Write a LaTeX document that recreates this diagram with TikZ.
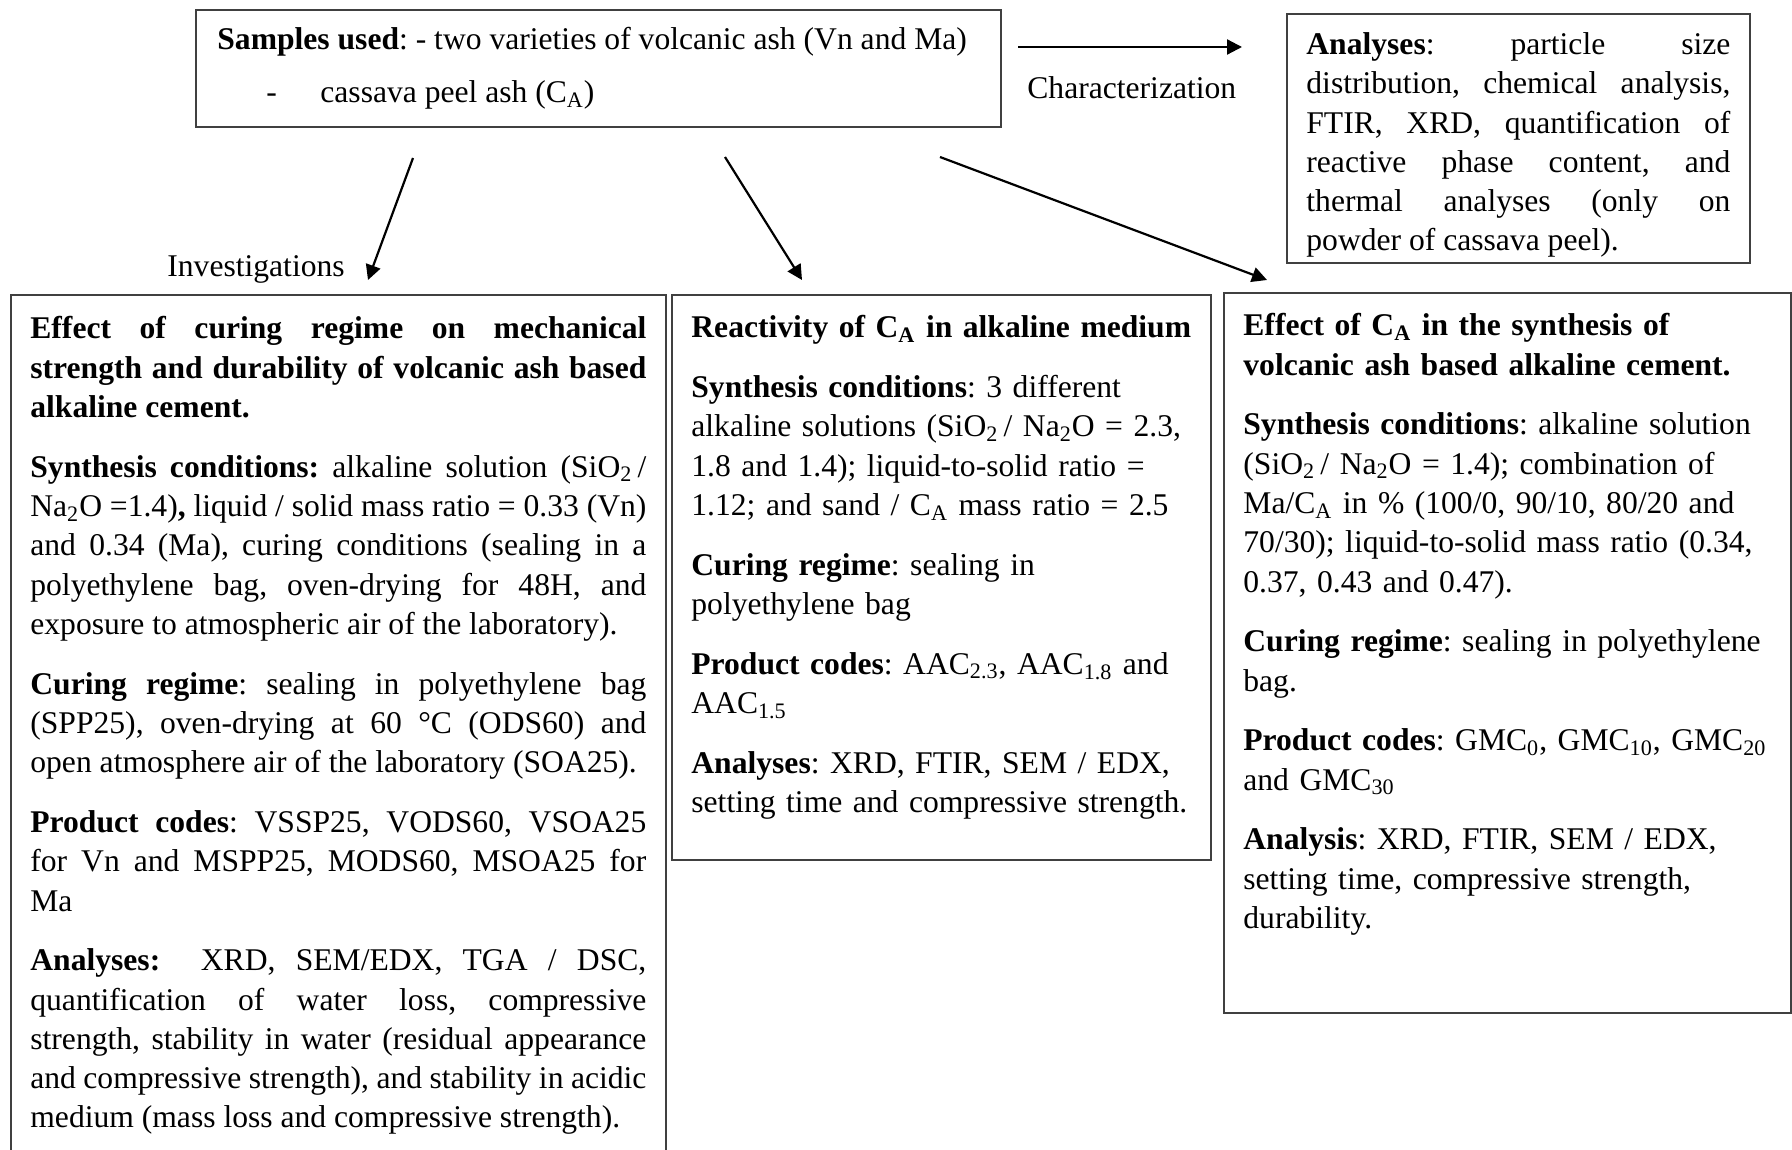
\documentclass[tikz,border=0pt]{standalone}
\usepackage{fontspec}
\setmainfont{Liberation Serif}
\usetikzlibrary{arrows.meta}
\tolerance=9999
\hbadness=10000
\hfuzz=20pt
\newcommand\pp{\par\vspace{10.2pt}}
\begin{document}
\frenchspacing
\begin{tikzpicture}[x=0.5pt,y=-0.5pt,
  boxnode/.style={draw=black!75, line width=0.75pt, inner sep=0pt},
  boxline/.style={draw=black!75, line width=0.75pt},
  txt/.style={inner sep=0pt, anchor=north west, font=\fontsize{15.8}{19.65}\selectfont\frenchspacing},
  jtxt/.style={txt, align=justify},
  ltxt/.style={txt, align=left},
  arr/.style={-{Triangle[length=7.5pt,width=7.5pt]}, line width=1.1pt}]
\useasboundingbox (0,0) rectangle (1792,1150);

% boxes
\node[boxnode, minimum width=402.5pt, minimum height=58.5pt] (top) at (598.5,68.5) {};
\node[boxnode, minimum width=231.5pt, minimum height=124.5pt] (ana) at (1518.5,138.5) {};
\node[boxnode, minimum width=269.5pt, minimum height=282.5pt] (b2) at (941.5,577.5) {};
\node[boxnode, minimum width=283.5pt, minimum height=360pt] (b3) at (1507.5,653) {};
\draw[boxline] (11,1152) |- (666,295) -- (666,1152);

% top box text
\node[txt, anchor=base west] (s1) at (217,49.5) {\textbf{Samples used}: - two varieties of volcanic ash (Vn and Ma)};
\node[txt, anchor=base west] (s2a) at (266,102.5) {-};
\node[txt, anchor=base west] (s2) at (320,102.5) {cassava peel ash (C\textsubscript{A})};

% labels
\node[txt, anchor=base west] (lchar) at (1027,98.5) {Characterization};
\node[txt, anchor=base west] (linv) at (167,277) {Investigations};

% analyses box text
\node[jtxt, text width=212pt] (tana) at (1306,26.5) {\strut\textbf{Analyses}: particle size \linebreak distribution, chemical analysis, \linebreak FTIR, XRD, quantification of \linebreak reactive phase content, and \linebreak thermal analyses (only on \linebreak powder of cassava peel).};

% box 1 text
\node[jtxt, text width=308pt] (t1) at (30,311) {\strut\textbf{Effect of curing regime on mechanical \linebreak strength and durability of volcanic ash based \linebreak alkaline cement.}\pp
\textbf{Synthesis conditions:} alkaline solution (SiO\textsubscript{2}\,/ \linebreak Na\textsubscript{2}O =1.4)\textbf{,} liquid / solid mass ratio = 0.33 (Vn) \linebreak and 0.34 (Ma), curing conditions (sealing in a \linebreak polyethylene bag, oven-drying for 48H, and \linebreak exposure to atmospheric air of the laboratory).\pp
\textbf{Curing regime}: sealing in polyethylene bag \linebreak (SPP25), oven-drying at 60 °C (ODS60) and \linebreak open atmosphere air of the laboratory (SOA25).\pp
\textbf{Product codes}: VSSP25, VODS60, VSOA25 \linebreak for Vn and MSPP25, MODS60, MSOA25 for \linebreak Ma\pp
\textbf{Analyses:}\ \ XRD, SEM/EDX, TGA / DSC, \linebreak quantification of water loss, compressive \linebreak strength, stability in water (residual appearance \linebreak and compressive strength), and stability in acidic \linebreak medium (mass loss and compressive strength).};

% box 2 text
\node[ltxt, text width=252pt] (t2) at (691,310) {\strut\textbf{Reactivity of C\textsubscript{A} in alkaline medium}\pp
\textbf{Synthesis conditions}: 3 different\\ alkaline solutions (SiO\textsubscript{2}\,/ Na\textsubscript{2}O = 2.3,\\ 1.8 and 1.4); liquid-to-solid ratio =\\ 1.12; and sand / C\textsubscript{A} mass ratio = 2.5\pp
\textbf{Curing regime}: sealing in\\ polyethylene bag\pp
\textbf{Product codes}: AAC\textsubscript{2.3}, AAC\textsubscript{1.8} and\\ AAC\textsubscript{1.5}\pp
\textbf{Analyses}: XRD, FTIR, SEM / EDX,\\ setting time and compressive strength.};

% box 3 text
\node[ltxt, text width=265pt] (t3) at (1243,308) {\strut\textbf{Effect of C\textsubscript{A} in the synthesis of\\ volcanic ash based alkaline cement.}\pp
\textbf{Synthesis conditions}: alkaline solution\\ (SiO\textsubscript{2}\,/ Na\textsubscript{2}O = 1.4); combination of\\ Ma/C\textsubscript{A} in \% (100/0, 90/10, 80/20 and\\ 70/30); liquid-to-solid mass ratio (0.34,\\ 0.37, 0.43 and 0.47).\pp
\textbf{Curing regime}: sealing in polyethylene\\ bag.\pp
\textbf{Product codes}: GMC\textsubscript{0}, GMC\textsubscript{10}, GMC\textsubscript{20}\\ and GMC\textsubscript{30}\pp
\textbf{Analysis}: XRD, FTIR, SEM / EDX,\\ setting time, compressive strength,\\ durability.};

% arrows
\coordinate (c0s) at (1018,47);
\coordinate (c0e) at (1242,47);
\coordinate (a1s) at (413,158);
\coordinate (a1e) at (368,280);
\coordinate (a2s) at (725,157);
\coordinate (a2e) at (802,280);
\coordinate (a3s) at (940,157);
\coordinate (a3e) at (1267,280);
\draw[arr] (c0s) -- (c0e);
\draw[arr] (a1s) -- (a1e);
\draw[arr] (a2s) -- (a2e);
\draw[arr] (a3s) -- (a3e);
\end{tikzpicture}
\end{document}
